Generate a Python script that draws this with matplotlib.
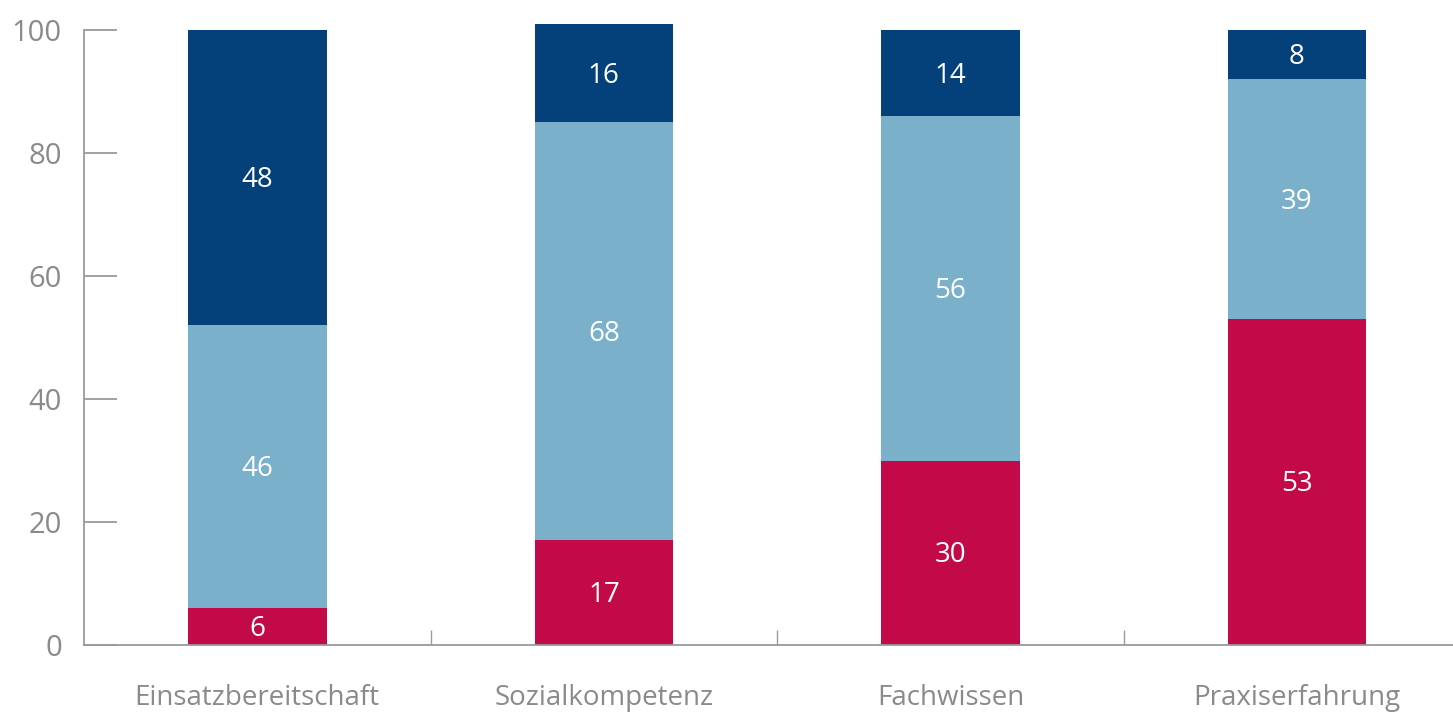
"""Stacked bar chart: Einsatzbereitschaft, Sozialkompetenz, Fachwissen, Praxiserfahrung."""

import matplotlib
matplotlib.use("Agg")
import matplotlib.pyplot as plt
import numpy as np

categories = ["Einsatzbereitschaft", "Sozialkompetenz", "Fachwissen", "Praxiserfahrung"]
bottom_vals = [6, 17, 30, 53]
middle_vals = [46, 68, 56, 39]
top_vals = [48, 16, 14, 8]
y_ticks = [0, 20, 40, 60, 80, 100]

colors = ["#C20A48", "#7BB0CB", "#04407A"]
gray = "#8a8a8a"

plt.rcParams['font.family'] = ['Open Sans', 'DejaVu Sans']

fig = plt.figure(figsize=(14.53, 7.13), dpi=100)
ax = fig.add_axes([84 / 1453, 1 - 645 / 713, 1 - 84 / 1453, (645 - 30) / 713])

x = np.arange(len(categories))
width = 0.4
series = [bottom_vals, middle_vals, top_vals]
base = np.zeros(len(categories))
for vals, col in zip(series, colors):
    bars = ax.bar(x, vals, width, bottom=base, color=col, clip_on=False, zorder=2)
    for b, v in zip(bars, vals):
        ax.text(b.get_x() + b.get_width() / 2, b.get_y() + v / 2 - 0.4, str(v),
                ha='center', va='center', color='white', fontsize=20)
    base += np.array(vals)

ax.set_xlim(-0.5, 3.45)
ax.set_ylim(0, 100)
ax.set_yticks(y_ticks)
ax.set_xticks(x)
ax.set_xticklabels(categories)
ax.set_xticks([0.5, 1.5, 2.5], minor=True)

for s in ['top', 'right']:
    ax.spines[s].set_visible(False)
for s in ['left', 'bottom']:
    ax.spines[s].set_color('#9a9a9a')
    ax.spines[s].set_linewidth(1.3)

ax.tick_params(axis='y', direction='in', length=24, width=1.3, color='#9a9a9a',
               labelcolor=gray, labelsize=21, pad=16)
ax.tick_params(axis='x', which='major', length=0, labelcolor=gray, labelsize=20, pad=28)
ax.tick_params(axis='x', which='minor', direction='in', length=11, width=1.0, color='#9a9a9a')

fig.savefig("out.png", dpi=100)
